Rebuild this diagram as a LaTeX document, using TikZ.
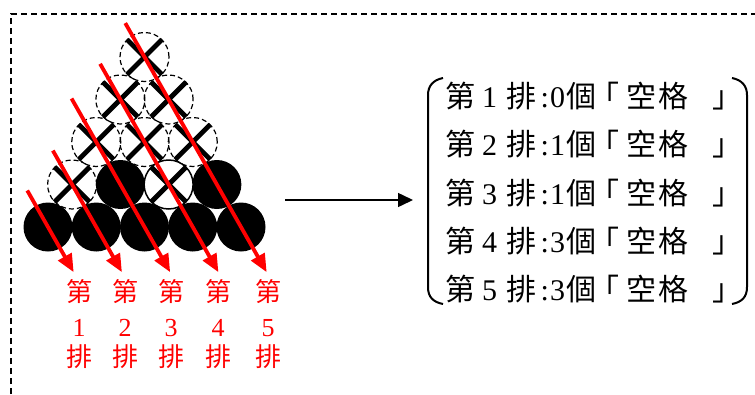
\documentclass[tikz,border=0pt]{standalone}
\usepackage{fontspec}
\setmainfont{Liberation Serif}
\newfontfamily\cjk{Noto Sans CJK TC}
\usetikzlibrary{arrows.meta,calc}
\newcommand\gat[2]{\rlap{\hspace*{#1pt}#2}}
\newcommand\rowtext[2]{\gat{0}{\cjk 第}\gat{36.4}{#1}\gat{60.5}{\cjk 排}\gat{95}{:}\gat{104.5}{#2}\gat{121}{\cjk 個}\gat{144}{\cjk 「}\gat{181}{\cjk 空}\gat{213}{\cjk 格}\gat{267}{\cjk 」}}
\begin{document}
\begin{tikzpicture}[x=1pt,y=-1pt,
  ball/.style={circle,minimum size=49pt,inner sep=0pt},
  dcirc/.style={ball,draw,dash pattern=on 5pt off 3pt,line width=1.2pt},
  bcirc/.style={ball,fill=black},
  wcirc/.style={ball,draw,fill=white,line width=1.5pt},
  xmark/.style={line width=4.8pt},
  redarr/.style={draw=red,line width=3.8pt,-{Triangle[length=18pt,width=15pt,fill=red]}},
  lab/.style={text=red,font=\fontsize{26}{26}\selectfont,inner sep=0pt},
  labcjk/.style={lab,font=\cjk\fontsize{26}{26}\selectfont},
  rtext/.style={inner sep=0pt,anchor=base west,font=\fontsize{30}{36}\selectfont},
  bracket/.style={line width=2pt},
  frame/.style={line width=1.3pt,dash pattern=on 6pt off 4pt},
  blackarr/.style={line width=1.5pt,-{Triangle[length=15pt,width=14pt]}}]
\useasboundingbox (0,0) rectangle (755,394);
% frame
\draw[frame] (11,394) -- (11,14) -- (755,14);
% circles: row r, position i
\foreach \r/\i/\t in {3/1/dcirc,3/2/dcirc,3/3/dcirc,4/1/dcirc,4/2/dcirc,5/1/dcirc,2/1/dcirc,
                      1/1/bcirc,1/2/bcirc,1/3/bcirc,1/4/bcirc,1/5/bcirc,2/2/bcirc,2/4/bcirc,2/3/wcirc}
  \node[\t] (c\r\i) at ({48+24.125*(\r-1)+48.25*(\i-1)},{227-42.5*(\r-1)}) {};
% X marks
\foreach \n in {c21,c23,c31,c32,c33,c41,c42,c51}{
  \draw[xmark] ($(\n)+(-17.5,-17.5)$) -- ($(\n)+(17.5,17.5)$);
  \draw[xmark] ($(\n)+(17.5,-17.5)$) -- ($(\n)+(-17.5,17.5)$);
}
% red arrows
\foreach \k/\L in {1/42,2/39,3/50,4/41,5/39}{
  \coordinate (s\k) at ($(c\k1)+({-\L*0.4937},{-\L*0.8696})$);
  \coordinate (e\k) at ($(c1\k)+({52*0.4937},{52*0.8696})$);
  \draw[redarr] (s\k) -- (e\k);
}
% red labels
\foreach \k/\x in {1/79,2/125,3/171,4/218,5/268}{
  \node[labcjk] (la\k) at (\x,292) {第};
  \node[lab] (lb\k) at (\x,328) {\k};
  \node[labcjk] (lc\k) at (\x,357) {排};
}
% black arrow
\coordinate (as) at (285,200);
\coordinate (ae) at (413,200);
\draw[blackarr] (as) -- (ae);
% text lines
\node[rtext] (t1) at (445,107.4) {\rowtext{1}{0}};
\node[rtext] (t2) at (445,155.7) {\rowtext{2}{1}};
\node[rtext] (t3) at (445,204) {\rowtext{3}{1}};
\node[rtext] (t4) at (445,252.3) {\rowtext{4}{3}};
\node[rtext] (t5) at (445,300.6) {\rowtext{5}{3}};
% brackets
\draw[bracket] (443,78) .. controls (433,80) and (428,86) .. (428,95) -- (428,287) .. controls (428,297) and (433,302) .. (443,304);
\draw[bracket] (732,78) .. controls (742,80) and (747,86) .. (747,95) -- (747,287) .. controls (747,297) and (742,302) .. (732,304);
\end{tikzpicture}
\end{document}
